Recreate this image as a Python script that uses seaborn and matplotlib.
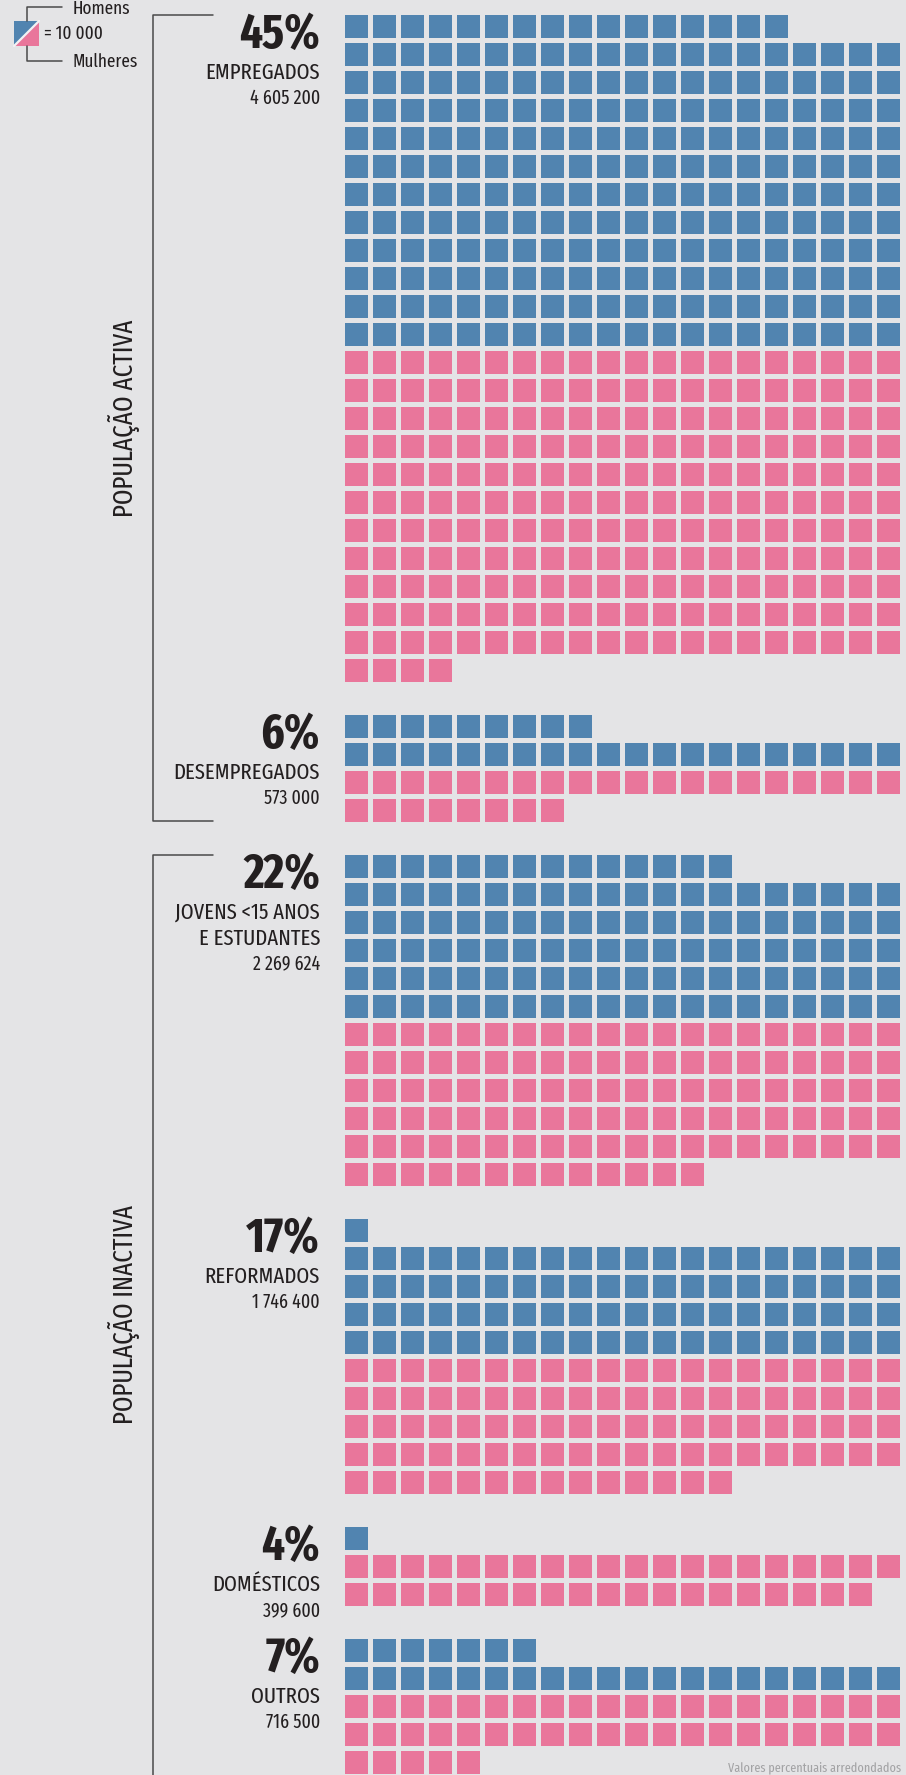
import numpy as np
import matplotlib
matplotlib.use("Agg")
import matplotlib.pyplot as plt
from matplotlib import font_manager
from matplotlib.colors import ListedColormap
from matplotlib.patches import Polygon
from matplotlib.lines import Line2D
import seaborn as sns

# ---------------- data ----------------
categories = ["EMPREGADOS", "DESEMPREGADOS", "JOVENS <15 ANOS\nE ESTUDANTES",
              "REFORMADOS", "DOMÉSTICOS", "OUTROS"]
percent_labels = ["45%", "6%", "22%", "17%", "4%", "7%"]
totals = ["4 605 200", "573 000", "2 269 624", "1 746 400", "399 600", "716 500"]
men_squares = [236, 29, 114, 81, 1, 27]      # 1 square = 10 000 (Homens)
women_squares = [224, 28, 113, 94, 39, 45]   # 1 square = 10 000 (Mulheres)
group_names = ["POPULAÇÃO ACTIVA", "POPULAÇÃO INACTIVA"]
group_members = [[0, 1], [2, 3, 4, 5]]
legend_unit = "= 10 000"
legend_men = "Homens"
legend_women = "Mulheres"
footnote = "Valores percentuais arredondados"

# ---------------- style ----------------
BG = "#e4e4e6"
BLUE = "#5184b0"
PINK = "#e9769b"
TXT = "#231f20"
LINE = "#4a4a4a"
W, H = 906, 1775
DPI = 100
NCOL = 20
PITCH = 28.0
GAP = 5.0
GRID_X0 = 344.0
GRID_Y0 = 14.0

sns.set_theme(style="white")
fl = font_manager.fontManager.ttflist
static = {}
for f in fl:
    if "[" in f.fname.split("/")[-1]:
        continue
    static.setdefault(f.name, set()).add(f.weight if isinstance(f.weight, int) else 400)
prefs = ["Fira Sans Extra Condensed", "Fira Sans Condensed", "PT Sans Narrow",
         "Roboto Condensed", "Asap Condensed"]
COND = "DejaVu Sans"
for p in prefs:
    if p in static and any(wt >= 700 for wt in static[p]) and any(wt <= 400 for wt in static[p]):
        COND = p
        break
plt.rcParams["font.family"] = [COND, "DejaVu Sans"]

# ---------------- waffle matrix ----------------
rows = []
row_start = []
row_end = []
for i in range(len(categories)):
    if i > 0:
        rows.append([np.nan] * NCOL)
    row_start.append(len(rows))
    m, w = men_squares[i], women_squares[i]
    r, full = m % NCOL, m // NCOL
    if r:
        rows.append([0] * r + [np.nan] * (NCOL - r))
    rows += [[0] * NCOL for _ in range(full)]
    full, r = w // NCOL, w % NCOL
    rows += [[1] * NCOL for _ in range(full)]
    if r:
        rows.append([1] * r + [np.nan] * (NCOL - r))
    row_end.append(len(rows))
mat = np.array(rows, dtype=float)
nrows = mat.shape[0]

fig = plt.figure(figsize=(W / DPI, H / DPI), dpi=DPI, facecolor=BG)

ax_left = GRID_X0 - GAP / 2
ax_top = GRID_Y0 - GAP / 2
ax_w = NCOL * PITCH
ax_h = nrows * PITCH
ax = fig.add_axes([ax_left / W, 1 - (ax_top + ax_h) / H, ax_w / W, ax_h / H])
ax.set_facecolor(BG)
sns.heatmap(mat, ax=ax, cmap=ListedColormap([BLUE, PINK]), vmin=0, vmax=1,
            cbar=False, linewidths=GAP * 72 / DPI, linecolor=BG,
            xticklabels=False, yticklabels=False, mask=np.isnan(mat))
ax.set_xlabel("")
ax.set_ylabel("")
for s in ax.spines.values():
    s.set_visible(False)


def fx(x):
    return x / W


def fy(y):
    return 1 - y / H


def ftext(x, y, s, **kw):
    kw.setdefault("color", TXT)
    fig.text(fx(x), fy(y), s, transform=fig.transFigure, **kw)


def fline(xs, ys, **kw):
    fig.add_artist(Line2D([fx(v) for v in xs], [fy(v) for v in ys],
                          transform=fig.transFigure, color=LINE, lw=1.1, **kw))


LABEL_X = 320
for i in range(len(categories)):
    T = GRID_Y0 + row_start[i] * PITCH
    ftext(LABEL_X, T + 34, percent_labels[i], ha="right", va="baseline",
          fontsize=35, fontweight="bold")
    y = T + 65
    for line in categories[i].split("\n"):
        ftext(LABEL_X, y, line, ha="right", va="baseline", fontsize=16.2)
        y += 26
    ftext(LABEL_X, y - 1, totals[i], ha="right", va="baseline", fontsize=14)

BX = 152.5
for g, members in enumerate(group_members):
    top = GRID_Y0 + row_start[members[0]] * PITCH + 0.5
    last = g == len(group_members) - 1
    bottom = GRID_Y0 + (row_end[members[-1]] - 1) * PITCH + PITCH - GAP + 0.5
    if last:
        fline([213, BX, BX], [top, top, H + 10])
    else:
        fline([213, BX, BX, 213], [top, top, bottom, bottom])
    ftext(124, (top + bottom) / 2, group_names[g], ha="center", va="center",
          rotation=90, fontsize=19.5)

x0, y0, x1, y1 = (14, 21, 39, 46)
fig.add_artist(Polygon([(fx(x0), fy(y0)), (fx(x1), fy(y0)), (fx(x0), fy(y1))],
                       closed=True, transform=fig.transFigure, facecolor=BLUE,
                       edgecolor="none"))
fig.add_artist(Polygon([(fx(x1), fy(y0)), (fx(x1), fy(y1)), (fx(x0), fy(y1))],
                       closed=True, transform=fig.transFigure, facecolor=PINK,
                       edgecolor="none"))
fig.add_artist(Line2D([fx(x0), fx(x1)], [fy(y1), fy(y0)], transform=fig.transFigure,
                      color="#f2f2f4", lw=1.6))
fline([26.7, 26.7, 62], [21, 6.7, 6.7])
fline([26.7, 26.7, 62], [46, 61, 61])
ftext(44, 39, legend_unit, ha="left", va="baseline", fontsize=13.5)
ftext(73, 13.5, legend_men, ha="left", va="baseline", fontsize=13.5)
ftext(73, 67, legend_women, ha="left", va="baseline", fontsize=13.5)

ftext(901, 1774, footnote, ha="right", va="bottom", fontsize=9.5, color="#a3a3a5")

fig.savefig("out.png", dpi=DPI, facecolor=BG)
